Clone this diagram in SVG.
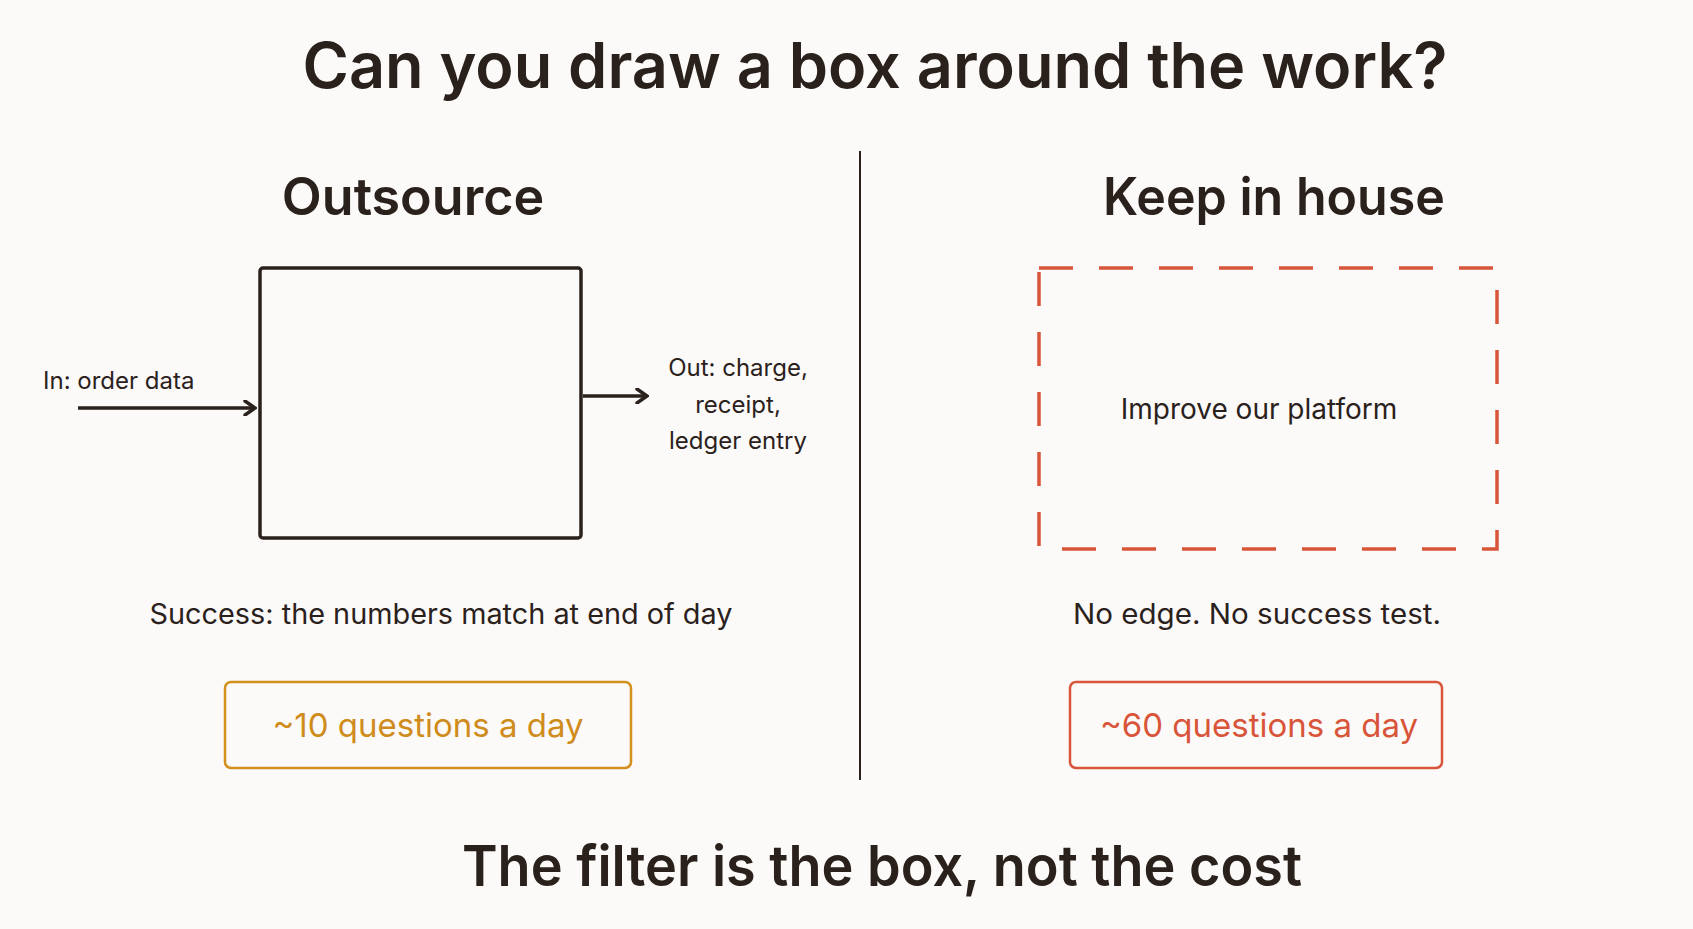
<svg xmlns="http://www.w3.org/2000/svg" width="1693" height="929" viewBox="0 0 1693 929">
<style>
text{font-family:Inter,"Liberation Sans",sans-serif;fill:#2b211c}
.h{font-weight:600;text-anchor:middle}
.m{font-size:28px;text-anchor:middle}
</style>
<defs><marker id="a" markerWidth="14" markerHeight="16" refX="12" refY="8" orient="auto" markerUnits="userSpaceOnUse"><path d="M2,1 L12,8 L2,15" fill="none" stroke="#2b211c" stroke-width="3.5" stroke-linecap="round"/></marker></defs>
<rect width="1693" height="929" fill="#fbfaf8"/>
<text class="h" x="875" y="88" font-size="63" textLength="1145" lengthAdjust="spacingAndGlyphs">Can you draw a box around the work?</text>
<line x1="860" y1="151" x2="860" y2="780" stroke="#2b211c" stroke-width="2"/>
<g id="outsource">
<text class="h" x="413" y="215" font-size="52">Outsource</text>
<rect x="260" y="268" width="321" height="270" rx="3" fill="none" stroke="#2b211c" stroke-width="3.5"/>
<text x="43" y="389" font-size="24">In: order data</text>
<text x="738" y="376" font-size="24" text-anchor="middle">Out: charge,</text>
<text x="738" y="413" font-size="24" text-anchor="middle">receipt,</text>
<text x="738" y="449" font-size="24" text-anchor="middle">ledger entry</text>
<text class="m" x="441" y="624" textLength="583" lengthAdjust="spacingAndGlyphs">Success: the numbers match at end of day</text>
</g>
<g id="q10">
<rect x="225" y="682" width="406" height="86" rx="6" fill="none" stroke="#d4901e" stroke-width="2.5"/>
<text x="428" y="737" font-size="33" text-anchor="middle" style="fill:#cf8c1c">~10 questions a day</text>
</g>
<g id="inhouse">
<text class="h" x="1274" y="215" font-size="52" textLength="342" lengthAdjust="spacingAndGlyphs">Keep in house</text>
<rect x="1039" y="268" width="458" height="281" fill="none" stroke="#d9553a" stroke-width="3.5" stroke-dasharray="34,26"/>
<text x="1259" y="419" font-size="28" text-anchor="middle">Improve our platform</text>
<text class="m" x="1257" y="624" textLength="368" lengthAdjust="spacingAndGlyphs">No edge. No success test.</text>
</g>
<g id="q60">
<rect x="1070" y="682" width="372" height="86" rx="6" fill="none" stroke="#d9553a" stroke-width="2.5"/>
<text x="1259" y="737" font-size="33" text-anchor="middle" style="fill:#d9553a">~60 questions a day</text>
</g>
<g id="connectors">
<line x1="78" y1="408" x2="255" y2="408" stroke="#2b211c" stroke-width="3.5" marker-end="url(#a)"/>
<line x1="583" y1="396" x2="647" y2="396" stroke="#2b211c" stroke-width="3.5" marker-end="url(#a)"/>
</g>
<text class="h" x="882" y="886" font-size="56" textLength="840" lengthAdjust="spacingAndGlyphs">The filter is the box, not the cost</text>
</svg>
